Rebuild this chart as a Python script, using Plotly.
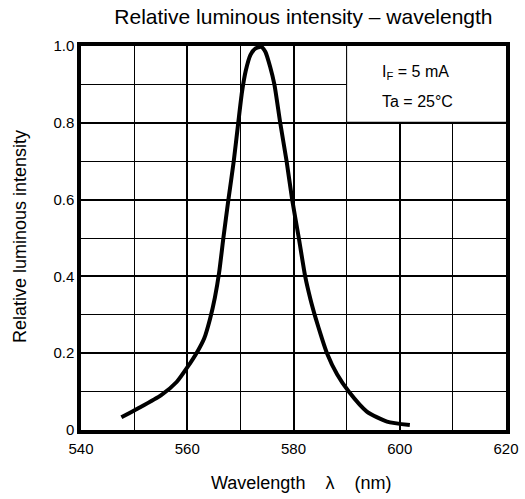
import plotly.graph_objects as go

# Curve
wavelength = [547.6, 550.7, 555.1, 558.0, 560.0, 561.9, 563.2, 564.3, 565.2, 566.0,
              566.8, 567.75, 568.75, 569.6, 570.3, 571.0, 571.9, 572.8, 573.9, 574.7,
              575.6, 576.4, 577.5, 578.7, 579.75, 581.0, 582.2, 583.2, 584.2, 585.2,
              586.3, 588.2, 590.4, 593.8, 597.6, 601.9]
intensity = [0.033, 0.056, 0.091, 0.125, 0.163, 0.204, 0.239, 0.29, 0.345, 0.41,
             0.50, 0.60, 0.70, 0.80, 0.88, 0.935, 0.977, 0.993, 0.998, 0.985,
             0.946, 0.90, 0.80, 0.70, 0.60, 0.50, 0.40, 0.34, 0.29, 0.245,
             0.20, 0.145, 0.10, 0.048, 0.022, 0.013]

x_ticks = [540, 560, 580, 600, 620]
y_ticks = [0, 0.2, 0.4, 0.6, 0.8, 1.0]
y_labels = ["0", "0.2", "0.4", "0.6", "0.8", "1.0"]

fig = go.Figure()
fig.add_trace(go.Scatter(
    x=wavelength, y=intensity, mode="lines",
    line=dict(color="black", width=4, shape="spline", smoothing=0.6),
    showlegend=False, hoverinfo="skip"
))

# white box for the test conditions, it hides the grid in that corner
fig.add_shape(type="rect", x0=590, x1=620, y0=0.8, y1=1.0, layer="between",
              fillcolor="white", line=dict(width=0))
fig.add_shape(type="line", x0=590, x1=590, y0=0.8, y1=1.0, layer="between",
              line=dict(color="black", width=1))
fig.add_shape(type="line", x0=590, x1=620, y0=0.8, y1=0.8, layer="between",
              line=dict(color="black", width=2))
fig.add_annotation(x=596.3, y=0.93, xanchor="left", yanchor="middle", showarrow=False,
                   text="I<sub>F</sub> = 5 mA", font=dict(size=16, color="black"))
fig.add_annotation(x=596.3, y=0.855, xanchor="left", yanchor="middle", showarrow=False,
                   text="Ta = 25°C", font=dict(size=16, color="black"))

# axis titles
fig.add_annotation(xref="paper", yref="paper", x=0.518, y=-0.138,
                   xanchor="center", yanchor="middle", showarrow=False,
                   text="Wavelength\u00a0\u00a0\u00a0\u00a0λ\u00a0\u00a0\u00a0\u00a0(nm)",
                   font=dict(size=18, color="black"))
fig.add_annotation(xref="paper", yref="paper", x=-0.142, y=0.504,
                   xanchor="center", yanchor="middle", showarrow=False,
                   text="Relative luminous intensity", textangle=-90,
                   font=dict(size=18, color="black"))

fig.update_xaxes(
    range=[540, 620], tickvals=x_ticks, ticks="", showgrid=True, gridcolor="black", gridwidth=2,
    minor=dict(dtick=10, tick0=540, showgrid=True, gridcolor="black", gridwidth=1),
    showline=True, linecolor="black", linewidth=3.5, mirror=True, zeroline=False,
    tickfont=dict(size=15, color="black"), ticklabelstandoff=2, automargin=False
)
fig.update_yaxes(
    range=[0, 1.0], tickvals=y_ticks, ticktext=y_labels, ticks="", showgrid=True,
    gridcolor="black", gridwidth=2,
    minor=dict(dtick=0.1, tick0=0, showgrid=True, gridcolor="black", gridwidth=1),
    showline=True, linecolor="black", linewidth=3.5, mirror=True, zeroline=False,
    tickfont=dict(size=15, color="black"), automargin=False
)

fig.update_layout(
    width=525, height=499,
    margin=dict(l=80.5, r=19, t=46, b=69, autoexpand=False),
    paper_bgcolor="white", plot_bgcolor="white",
    font=dict(family="Liberation Sans, Arial, sans-serif", color="black"),
    title=dict(text="Relative luminous intensity – wavelength", x=0.578, xanchor="center",
               y=0.966, yanchor="middle", font=dict(size=21, color="black"))
)

# drop the default page margin so the figure sits at the window's corner
fig.write_html("out.html", config={"displayModeBar": False},
               post_script="document.body.style.margin = '0';")
